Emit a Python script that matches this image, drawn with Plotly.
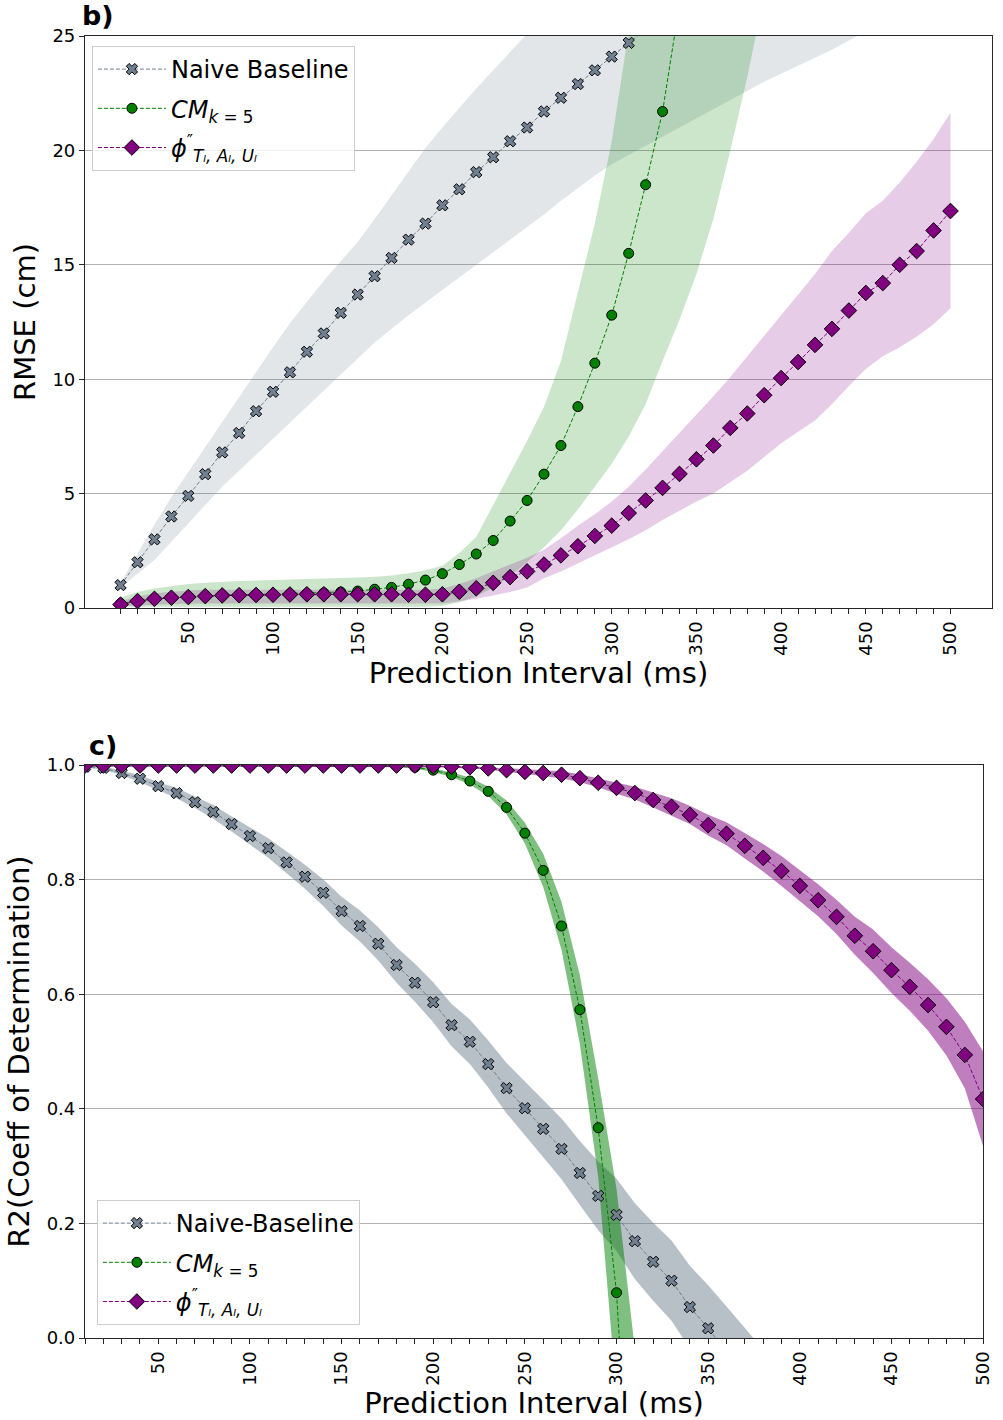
import plotly.graph_objects as go

# Prediction horizons (ms)
INTERVAL_MS = list(range(10, 501, 10))
TICK_LABELS = [str(v) if v % 50 == 0 else "" for v in INTERVAL_MS]

# ---------------- RMSE (cm) ----------------
NAIVE_RMSE = [1.0, 2.0, 3.0, 4.0, 4.9, 5.85, 6.8, 7.65, 8.6, 9.45,
              10.3, 11.2, 12.0, 12.9, 13.7, 14.5, 15.3, 16.1, 16.8, 17.6,
              18.3, 19.05, 19.7, 20.4, 21.0, 21.7, 22.3, 22.9, 23.5, 24.1,
              24.7, 25.3, 25.9, 26.5, 27.1, 27.7, 28.3, 28.9, 29.5, 30.1,
              30.7, 31.3, 31.9, 32.5, 33.1, 33.7, 34.3, 34.9, 35.5, 36.1]
NAIVE_RMSE_HI = [1.1, 2.4, 3.65, 4.85, 5.95, 7.05, 8.15, 9.25, 10.35, 11.4,
                 12.45, 13.4, 14.3, 15.15, 16.0, 17.0, 18.05, 19.1, 20.1, 21.0,
                 21.85, 22.7, 23.5, 24.3, 25.1, 25.9, 26.7, 27.5, 28.3, 29.1,
                 29.9, 30.7, 31.5, 32.3, 33.1, 33.9, 34.7, 35.5, 36.3, 37.1,
                 37.9, 38.7, 39.5, 40.3, 41.1, 41.9, 42.7, 43.5, 44.3, 45.1]
NAIVE_RMSE_LO = [0.9, 1.5, 2.1, 2.9, 3.7, 4.5, 5.3, 6.0, 6.7, 7.4,
                 8.1, 8.8, 9.5, 10.2, 10.9, 11.6, 12.2, 12.8, 13.35, 13.9,
                 14.45, 15.0, 15.55, 16.1, 16.65, 17.2, 17.8, 18.35, 18.9, 19.4,
                 19.8, 20.2, 20.6, 21.0, 21.4, 21.8, 22.2, 22.6, 23.0, 23.35,
                 23.7, 24.05, 24.4, 24.8, 25.2, 25.6, 26.0, 26.4, 26.8, 27.2]

CM_RMSE = [0.2, 0.3, 0.4, 0.45, 0.5, 0.52, 0.55, 0.57, 0.58, 0.6,
           0.62, 0.63, 0.66, 0.7, 0.74, 0.82, 0.9, 1.04, 1.22, 1.5,
           1.9, 2.36, 2.95, 3.8, 4.7, 5.85, 7.1, 8.8, 10.7, 12.8,
           15.5, 18.5, 21.7, 26.4, 31.5, 37.0, 43.0, 49.5, 56.5, 64.0]
CM_RMSE_HI = [0.45, 0.7, 0.85, 0.95, 1.05, 1.1, 1.15, 1.18, 1.2, 1.22,
              1.23, 1.25, 1.27, 1.3, 1.33, 1.37, 1.42, 1.52, 1.65, 1.85,
              2.4, 3.1, 4.5, 5.9, 7.3, 8.8, 10.8, 13.8, 16.8, 20.4,
              25.0, 30.0, 35.5, 41.5, 48.0, 55.0, 62.5, 70.5, 79.0, 88.0]
CM_RMSE_LO = [0.05, 0.05, 0.05, 0.05, 0.05, 0.05, 0.05, 0.05, 0.05, 0.05,
              0.05, 0.05, 0.05, 0.05, 0.05, 0.05, 0.05, 0.05, 0.05, 0.1,
              0.25, 0.5, 0.9, 1.4, 2.0, 2.65, 3.4, 4.3, 5.3, 6.3,
              7.5, 8.9, 10.8, 12.6, 14.6, 17.0, 20.0, 23.2, 26.8, 30.5]

PHI_RMSE = [0.15, 0.3, 0.4, 0.45, 0.48, 0.52, 0.55, 0.56, 0.57, 0.58,
            0.59, 0.6, 0.6, 0.6, 0.6, 0.6, 0.6, 0.58, 0.58, 0.6,
            0.71, 0.86, 1.1, 1.35, 1.6, 1.9, 2.3, 2.7, 3.15, 3.6,
            4.15, 4.7, 5.25, 5.86, 6.5, 7.1, 7.87, 8.5, 9.3, 10.05,
            10.75, 11.5, 12.2, 13.0, 13.77, 14.2, 15.0, 15.6, 16.5, 17.35]
PHI_RMSE_HI = [0.3, 0.5, 0.65, 0.72, 0.76, 0.8, 0.8, 0.8, 0.8, 0.8,
               0.8, 0.8, 0.8, 0.8, 0.8, 0.8, 0.8, 0.8, 0.8, 0.85,
               1.05, 1.3, 1.6, 1.9, 2.2, 2.55, 3.05, 3.6, 4.1, 4.65,
               5.3, 6.05, 6.85, 7.65, 8.45, 9.25, 10.1, 11.0, 11.9, 12.8,
               13.7, 14.6, 15.6, 16.4, 17.25, 17.8, 18.6, 19.5, 20.5, 21.65]
PHI_RMSE_LO = [0.08, 0.1, 0.14, 0.18, 0.2, 0.2, 0.2, 0.2, 0.2, 0.2,
               0.2, 0.2, 0.2, 0.2, 0.2, 0.2, 0.2, 0.2, 0.2, 0.2,
               0.3, 0.4, 0.55, 0.7, 0.9, 1.3, 1.6, 1.95, 2.3, 2.65,
               3.0, 3.4, 3.85, 4.25, 4.65, 5.0, 5.5, 6.0, 6.6, 7.2,
               7.7, 8.2, 8.9, 9.7, 10.45, 11.0, 11.4, 11.85, 12.4, 13.1]

# ---------------- R2 (coefficient of determination) ----------------
NAIVE_R2 = [0.997, 0.995, 0.986, 0.976, 0.963, 0.951, 0.935, 0.918, 0.897, 0.876,
            0.855, 0.83, 0.805, 0.777, 0.745, 0.719, 0.688, 0.651, 0.62, 0.586,
            0.546, 0.517, 0.478, 0.436, 0.401, 0.365, 0.33, 0.288, 0.248, 0.215,
            0.169, 0.133, 0.1, 0.054, 0.017, -0.025, -0.07, -0.115, -0.16, -0.21]
NAIVE_R2_HI = [0.999, 0.998, 0.99, 0.982, 0.97, 0.96, 0.945, 0.93, 0.91, 0.891,
               0.872, 0.849, 0.826, 0.8, 0.77, 0.746, 0.717, 0.682, 0.653, 0.621,
               0.583, 0.556, 0.519, 0.48, 0.448, 0.415, 0.383, 0.344, 0.308, 0.278,
               0.235, 0.201, 0.17, 0.126, 0.092, 0.055, 0.018, -0.02, -0.065, -0.11]
NAIVE_R2_LO = [0.995, 0.992, 0.982, 0.97, 0.956, 0.942, 0.925, 0.906, 0.884, 0.861,
               0.838, 0.811, 0.784, 0.754, 0.72, 0.692, 0.659, 0.62, 0.587, 0.551,
               0.509, 0.478, 0.437, 0.392, 0.354, 0.315, 0.277, 0.232, 0.188, 0.152,
               0.103, 0.065, 0.03, -0.018, -0.058, -0.105, -0.155, -0.205, -0.255, -0.31]

CM_R2 = [0.999, 0.999, 0.999, 0.999, 0.999, 0.999, 0.999, 0.999, 0.999, 0.999,
         0.999, 0.999, 0.999, 0.999, 0.999, 0.999, 0.999, 0.998, 0.996, 0.991,
         0.983, 0.972, 0.954, 0.926, 0.881, 0.816, 0.719, 0.573, 0.367, 0.079,
         -0.45, -1.1]
CM_R2_HI = [1.0, 1.0, 1.0, 1.0, 1.0, 1.0, 1.0, 1.0, 1.0, 1.0,
            1.0, 1.0, 1.0, 1.0, 1.0, 1.0, 1.0, 1.0, 0.998, 0.994,
            0.987, 0.978, 0.962, 0.938, 0.899, 0.845, 0.761, 0.633, 0.453, 0.26,
            -0.02, -0.6]
CM_R2_LO = [0.998, 0.998, 0.998, 0.998, 0.998, 0.998, 0.998, 0.998, 0.998, 0.998,
            0.998, 0.998, 0.998, 0.998, 0.998, 0.998, 0.998, 0.996, 0.994, 0.988,
            0.979, 0.966, 0.946, 0.914, 0.863, 0.787, 0.677, 0.513, 0.281, -0.1,
            -0.88, -1.6]

PHI_R2 = [0.999, 0.999, 0.999, 0.999, 0.999, 0.999, 0.999, 0.999, 0.999, 0.999,
          0.999, 0.999, 0.999, 0.999, 0.999, 0.999, 0.999, 0.999, 0.999, 0.998,
          0.997, 0.996, 0.994, 0.991, 0.988, 0.986, 0.983, 0.977, 0.969, 0.96,
          0.951, 0.939, 0.927, 0.913, 0.895, 0.88, 0.859, 0.838, 0.815, 0.789,
          0.764, 0.735, 0.702, 0.675, 0.642, 0.613, 0.581, 0.543, 0.494, 0.417]
PHI_R2_HI = [1.0, 1.0, 1.0, 1.0, 1.0, 1.0, 1.0, 1.0, 1.0, 1.0,
             1.0, 1.0, 1.0, 1.0, 1.0, 1.0, 1.0, 1.0, 1.0, 1.0,
             0.999, 0.998, 0.996, 0.994, 0.992, 0.991, 0.989, 0.984, 0.977, 0.97,
             0.962, 0.952, 0.942, 0.929, 0.913, 0.9, 0.881, 0.862, 0.841, 0.816,
             0.792, 0.765, 0.735, 0.713, 0.682, 0.655, 0.626, 0.593, 0.552, 0.5]
PHI_R2_LO = [0.997, 0.997, 0.997, 0.997, 0.997, 0.997, 0.997, 0.997, 0.997, 0.997,
             0.997, 0.997, 0.997, 0.997, 0.997, 0.997, 0.997, 0.997, 0.997, 0.996,
             0.995, 0.994, 0.992, 0.988, 0.984, 0.981, 0.977, 0.97, 0.961, 0.95,
             0.94, 0.926, 0.912, 0.897, 0.877, 0.86, 0.837, 0.814, 0.789, 0.762,
             0.736, 0.705, 0.669, 0.637, 0.602, 0.571, 0.536, 0.493, 0.436, 0.335]

NAIVE_COLOR = (112, 128, 144)   # slategray
CM_COLOR = (0, 128, 0)          # green
PHI_COLOR = (128, 0, 128)       # purple

NAME_NAIVE_TOP = "Naive Baseline"
NAME_NAIVE_BOTTOM = "Naive-Baseline"
NAME_CM = "<i>CM</i><sub><i>k</i> = 5</sub>"
NAME_PHI = "<i>ϕ</i><sup>″</sup><sub><i>Tₗ, Aₗ, Uₗ</i></sub>"

FONT = "DejaVu Sans"


def rgb(c):
    return "rgb(%d,%d,%d)" % c


def rgba(c, a):
    return "rgba(%d,%d,%d,%.2f)" % (c + (a,))


fig = go.Figure()


def add_band(xa, ya, hi, lo, color, alpha):
    xs = INTERVAL_MS[:len(hi)]
    fig.add_trace(go.Scatter(x=xs, y=hi, mode="lines", line=dict(width=0),
                             showlegend=False, hoverinfo="skip",
                             xaxis=xa, yaxis=ya))
    fig.add_trace(go.Scatter(x=xs, y=lo, mode="lines", line=dict(width=0),
                             fill="tonexty", fillcolor=rgba(color, alpha),
                             showlegend=False, hoverinfo="skip",
                             xaxis=xa, yaxis=ya))


def add_series(xa, ya, vals, color, name, symbol, size, legend, group):
    xs = INTERVAL_MS[:len(vals)]
    fig.add_trace(go.Scatter(
        x=xs, y=vals, mode="lines+markers", name=name, legend=legend,
        legendgroup=group,
        line=dict(color=rgb(color), width=1, dash="4px,2px"),
        marker=dict(symbol=symbol, size=size, color=rgb(color),
                    line=dict(color="black", width=1)),
        xaxis=xa, yaxis=ya))


# RMSE panel: shaded spreads below, mean curves on top
add_band("x", "y", NAIVE_RMSE_HI, NAIVE_RMSE_LO, NAIVE_COLOR, 0.2)
add_band("x", "y", CM_RMSE_HI, CM_RMSE_LO, CM_COLOR, 0.2)
add_band("x", "y", PHI_RMSE_HI, PHI_RMSE_LO, PHI_COLOR, 0.2)
add_series("x", "y", NAIVE_RMSE, NAIVE_COLOR, NAME_NAIVE_TOP, "x", 10, "legend", "a1")
add_series("x", "y", CM_RMSE, CM_COLOR, NAME_CM, "circle", 10, "legend", "a2")
add_series("x", "y", PHI_RMSE, PHI_COLOR, NAME_PHI, "diamond", 12, "legend", "a3")

# R2 panel
add_band("x2", "y2", NAIVE_R2_HI, NAIVE_R2_LO, NAIVE_COLOR, 0.5)
add_band("x2", "y2", CM_R2_HI, CM_R2_LO, CM_COLOR, 0.5)
add_band("x2", "y2", PHI_R2_HI, PHI_R2_LO, PHI_COLOR, 0.5)
add_series("x2", "y2", NAIVE_R2, NAIVE_COLOR, NAME_NAIVE_BOTTOM, "x", 10, "legend2", "b1")
add_series("x2", "y2", CM_R2, CM_COLOR, NAME_CM, "circle", 10, "legend2", "b2")
add_series("x2", "y2", PHI_R2, PHI_COLOR, NAME_PHI, "diamond", 12, "legend2", "b3")

W, H = 1003, 1420
ML, MR, MT, MB = 85, 1, 36, 82
PH = H - MT - MB


def py(px):
    # pixel row -> paper y
    return (H - MB - px) / PH


AX_LINE = "#262626"
common_x = dict(
    tickmode="array", tickvals=INTERVAL_MS, ticktext=TICK_LABELS,
    tickangle=-90, ticks="outside", ticklen=5, tickwidth=1, tickcolor=AX_LINE,
    showline=True, mirror=True, linecolor=AX_LINE, linewidth=1.2,
    showgrid=False, zeroline=False,
    tickfont=dict(size=18, color="black", family=FONT),
    title=dict(text="Prediction Interval (ms)", standoff=6,
               font=dict(size=29, color="black", family=FONT)),
)
common_y = dict(
    ticks="outside", ticklen=5, tickwidth=1, tickcolor=AX_LINE,
    showline=True, mirror=True, linecolor=AX_LINE, linewidth=1.2,
    showgrid=True, gridcolor="#b0b0b0", gridwidth=1, zeroline=False,
    tickfont=dict(size=18, color="black", family=FONT),
)
legend_common = dict(
    traceorder="grouped", tracegroupgap=5, bgcolor="rgba(255,255,255,0.8)",
    bordercolor="#cccccc", borderwidth=1, itemwidth=68,
    font=dict(size=24, color="black", family=FONT),
)

fig.update_layout(
    width=W, height=H,
    margin=dict(l=ML, r=MR, t=MT, b=MB),
    paper_bgcolor="white", plot_bgcolor="white",
    font=dict(family=FONT, color="black"),
    xaxis=dict(common_x, domain=[0, 1], range=[-11, 524.5], anchor="y"),
    yaxis=dict(common_y, domain=[py(608), 1.0], range=[0, 25],
               tickvals=[0, 5, 10, 15, 20, 25],
               title=dict(text="RMSE (cm)", standoff=8,
                          font=dict(size=29, color="black", family=FONT)),
               anchor="x"),
    xaxis2=dict(common_x, domain=[0, (993 - ML) / (W - ML - MR)], range=[10, 500],
                anchor="y2"),
    yaxis2=dict(common_y, domain=[0, py(765)], range=[0, 1],
                tickvals=[0, 0.2, 0.4, 0.6, 0.8, 1.0],
                ticktext=["0.0", "0.2", "0.4", "0.6", "0.8", "1.0"],
                title=dict(text="R2(Coeff of Determination)", standoff=8,
                           font=dict(size=29, color="black", family=FONT)),
                anchor="x2"),
    legend=dict(legend_common, x=7 / (W - ML - MR), y=py(46),
                xanchor="left", yanchor="top"),
    legend2=dict(legend_common, x=12 / (W - ML - MR), y=py(1325),
                 xanchor="left", yanchor="bottom"),
    annotations=[
        dict(text="<b>b)</b>", xref="paper", yref="paper",
             x=-5 / (W - ML - MR), y=py(33), xanchor="left", yanchor="bottom",
             showarrow=False, font=dict(size=27, color="black", family=FONT)),
        dict(text="<b>c)</b>", xref="paper", yref="paper",
             x=2 / (W - ML - MR), y=py(763), xanchor="left", yanchor="bottom",
             showarrow=False, font=dict(size=27, color="black", family=FONT)),
    ],
)

fig.write_html("out.html")
